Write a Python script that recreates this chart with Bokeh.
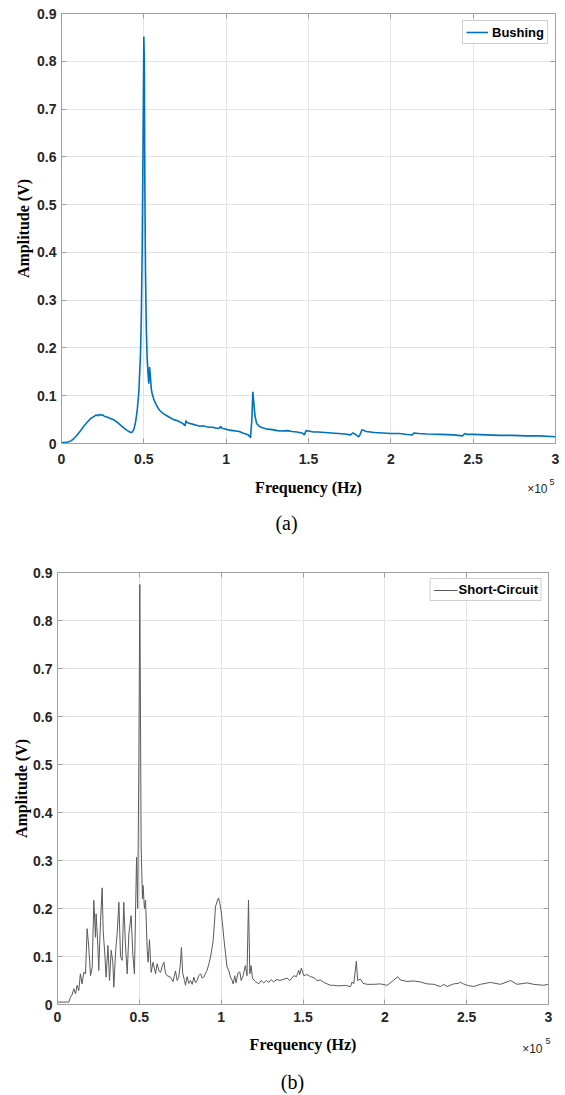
from bokeh.plotting import figure
from bokeh.models import Range1d, FixedTicker, LinearAxis, Legend, LegendItem
from bokeh.core.properties import value
from bokeh.embed import file_html
from bokeh.resources import INLINE

# ---------------- data ----------------
x_ticks = [0, 50000, 100000, 150000, 200000, 250000, 300000]
x_tick_labels = ["0", "0.5", "1", "1.5", "2", "2.5", "3"]
y_ticks = [0, 0.1, 0.2, 0.3, 0.4, 0.5, 0.6, 0.7, 0.8, 0.9]
y_tick_labels = ["0", "0.1", "0.2", "0.3", "0.4", "0.5", "0.6", "0.7", "0.8", "0.9"]

bushing_freq = [0, 2000, 4000, 6000, 8000, 10000, 12000, 14000, 16000, 18000, 20000, 21000,
                22000, 23000, 24000, 25000, 26000, 28000, 30000, 32000, 34000, 36000, 38000,
                40000, 42000, 43000, 44000, 45000, 46000, 47000, 48000, 48500, 49000, 49500,
                50000, 50300, 50600, 51000, 51500, 52000, 52500, 53000, 53500, 54000, 54500,
                55000, 56000, 57000, 58000, 59000, 60000, 62000, 64000, 66000, 68000, 70000,
                72000, 74000, 75000, 75600, 76200, 78000, 80000, 82000, 84000, 86000, 88000,
                90000, 92000, 94000, 96000, 96600, 97500, 100000, 102000, 104000, 106000,
                108000, 110000, 112000, 113500, 114800, 115600, 116200, 116800, 117500,
                118500, 120000, 122000, 125000, 128000, 131000, 134000, 137000, 140000,
                143000, 146000, 147500, 148500, 150000, 153000, 156000, 160000, 164000,
                168000, 172000, 175500, 177000, 178500, 180500, 181500, 182500, 185000,
                190000, 195000, 200000, 205000, 210000, 213000, 214000, 217000, 222000,
                230000, 238000, 243500, 245000, 246000, 250000, 258000, 266000, 274000,
                282000, 290000, 300000]
bushing_amp = [0.002, 0.002, 0.003, 0.006, 0.012, 0.020, 0.029, 0.038, 0.046, 0.053, 0.057, 0.060,
               0.058, 0.061, 0.059, 0.060, 0.057, 0.055, 0.052, 0.049, 0.044, 0.038, 0.032,
               0.027, 0.023, 0.024, 0.030, 0.045, 0.070, 0.110, 0.190, 0.270, 0.400, 0.620,
               0.852, 0.800, 0.550, 0.360, 0.240, 0.180, 0.150, 0.125, 0.160, 0.140, 0.115,
               0.105, 0.093, 0.085, 0.078, 0.072, 0.068, 0.062, 0.058, 0.054, 0.050, 0.048,
               0.045, 0.041, 0.037, 0.048, 0.044, 0.042, 0.040, 0.038, 0.036, 0.037, 0.035,
               0.034, 0.034, 0.032, 0.032, 0.036, 0.032, 0.030, 0.028, 0.027, 0.026,
               0.025, 0.022, 0.020, 0.018, 0.012, 0.050, 0.108, 0.085, 0.058,
               0.042, 0.036, 0.033, 0.030, 0.029, 0.027, 0.026, 0.027, 0.025,
               0.024, 0.022, 0.018, 0.027, 0.026, 0.024, 0.024, 0.023, 0.022,
               0.021, 0.020, 0.018, 0.022, 0.019, 0.014, 0.020, 0.029, 0.025,
               0.023, 0.022, 0.021, 0.021, 0.019, 0.018, 0.022, 0.021, 0.020,
               0.019, 0.018, 0.016, 0.021, 0.019, 0.019, 0.018, 0.017, 0.017,
               0.016, 0.016, 0.014]

short_freq = [0, 6900, 7900, 8900, 9980, 11000, 12000, 13000, 14000, 15000, 16100, 17100,
              18100, 19100, 20200, 21200, 22200, 23200, 23600, 24600, 25200, 26300, 27300,
              27900, 28900, 29700, 30800, 31800, 32800, 33800, 34400, 35500, 36500, 37500,
              38500, 39500, 40500, 41500, 42600, 43600, 45000, 46000, 47000, 48300, 49000,
              49700, 50300, 51100, 51900, 52300, 53100, 53800, 54800, 55400, 56200, 57200,
              58400, 59900, 60900, 62000, 63000, 64000, 65000, 66000, 67000, 69000, 70600,
              72100, 73100, 74100, 75100, 75700, 76500, 77600, 78200, 79200, 80200, 81300,
              82300, 83300, 84300, 85300, 86300, 87400, 88400, 89400, 90400, 91400, 92500,
              93500, 94500, 95100, 95900, 96500, 97500, 98400, 99200, 100000, 100600,
              102000, 103600, 104700, 105700, 106700, 107300, 108300, 109100, 110200,
              111400, 112200, 113400, 114800, 115800, 116700, 117500, 118300, 119100,
              120900, 123000, 124400, 126000, 127700, 129100, 130500, 132000, 134000,
              136000, 140300, 142000, 144400, 146000, 147400, 148000, 149000, 150500,
              152500, 154500, 156600, 158600, 160600, 162700, 164700, 166800, 168800,
              170900, 172900, 175900, 179000, 180000, 181000, 182600, 183400, 185100,
              186700, 189200, 193200, 197300, 201400, 205500, 207900, 209500, 213600,
              217700, 221800, 225800, 229900, 234000, 236000, 238000, 242100, 245000,
              246200, 248000, 250300, 254300, 258400, 264500, 270600, 276800, 280800,
              286900, 291000, 297000, 300000]
short_amp = [0.005, 0.005, 0.015, 0.020, 0.033, 0.022, 0.040, 0.029, 0.064, 0.043, 0.067, 0.064,
             0.158, 0.120, 0.060, 0.077, 0.217, 0.140, 0.189, 0.126, 0.071, 0.175, 0.243,
             0.154, 0.105, 0.057, 0.123, 0.050, 0.113, 0.088, 0.036, 0.110, 0.150, 0.213,
             0.100, 0.092, 0.213, 0.126, 0.064, 0.147, 0.185, 0.105, 0.064, 0.307, 0.200,
             0.500, 0.875, 0.330, 0.220, 0.248, 0.200, 0.217, 0.113, 0.088, 0.135, 0.067,
             0.088, 0.064, 0.085, 0.070, 0.067, 0.080, 0.088, 0.065, 0.060, 0.057, 0.048,
             0.070, 0.050, 0.057, 0.085, 0.119, 0.065, 0.050, 0.040, 0.058, 0.044, 0.050,
             0.042, 0.057, 0.045, 0.050, 0.060, 0.064, 0.055, 0.057, 0.065, 0.071, 0.085,
             0.099, 0.120, 0.133, 0.170, 0.203, 0.215, 0.222, 0.210, 0.195, 0.175,
             0.126, 0.078, 0.070, 0.057, 0.050, 0.043, 0.060, 0.045, 0.065,
             0.068, 0.050, 0.060, 0.081, 0.060, 0.217, 0.064, 0.081, 0.055,
             0.048, 0.043, 0.050, 0.045, 0.050, 0.046, 0.052, 0.047, 0.052,
             0.050, 0.055, 0.050, 0.060, 0.058, 0.071, 0.062, 0.076, 0.060,
             0.0625, 0.058, 0.056, 0.050, 0.051, 0.046, 0.043, 0.040, 0.040,
             0.039, 0.039, 0.040, 0.037, 0.047, 0.043, 0.090, 0.050, 0.053,
             0.044, 0.042, 0.042, 0.043, 0.040, 0.051, 0.058, 0.051, 0.048,
             0.049, 0.047, 0.043, 0.042, 0.0375, 0.042, 0.0375, 0.043, 0.044,
             0.0465, 0.043, 0.040, 0.0375, 0.042, 0.046, 0.042, 0.050, 0.042,
             0.045, 0.042, 0.040, 0.042]

x_label = "Frequency (Hz)"
y_label = "Amplitude (V)"

GRID = "#e4e4e4"
AXC = "#a0a0a0"
TXT = "#262626"
W = 565


def base_fig(bl, fw, bt, fh, bb, tick_standoff, ylabel_standoff):
    p = figure(frame_width=fw, frame_height=fh, min_border_left=bl, min_border_right=W - bl - fw,
               min_border_top=bt, min_border_bottom=bb, output_backend="svg",
               toolbar_location=None, x_range=Range1d(0, 300000), y_range=Range1d(0, 0.9))
    p.background_fill_color = "white"
    p.border_fill_color = "white"
    p.outline_line_color = AXC
    p.xaxis.ticker = FixedTicker(ticks=x_ticks)
    p.yaxis.ticker = FixedTicker(ticks=y_ticks)
    p.xaxis.major_label_overrides = dict(zip(x_ticks, x_tick_labels))
    p.yaxis.major_label_overrides = dict(zip(y_ticks, y_tick_labels))
    for ax in (p.xaxis[0], p.yaxis[0]):
        ax.axis_line_color = AXC
        ax.major_tick_line_color = AXC
        ax.major_tick_in = 5
        ax.major_tick_out = 0
        ax.minor_tick_line_color = None
        ax.major_label_text_font = "Liberation Sans"
        ax.major_label_text_font_style = "bold"
        ax.major_label_text_font_size = "14px"
        ax.major_label_text_color = TXT
        ax.axis_label_text_font = "Liberation Serif"
        ax.axis_label_text_font_style = "bold"
        ax.axis_label_text_font_size = "16px"
        ax.axis_label_text_color = "black"
    p.xaxis.major_label_standoff = tick_standoff
    p.yaxis.major_label_standoff = 5
    p.yaxis.axis_label_standoff = ylabel_standoff
    p.yaxis.axis_label = y_label
    p.xgrid.grid_line_color = GRID
    p.ygrid.grid_line_color = GRID
    for loc, ticks in (("above", x_ticks), ("right", y_ticks)):
        ax = LinearAxis(ticker=FixedTicker(ticks=ticks), major_label_text_font_size="1px",
                        major_label_text_color=None, major_label_standoff=0,
                        axis_line_color=AXC, major_tick_line_color=AXC,
                        major_tick_in=5, major_tick_out=0, minor_tick_line_color=None)
        p.add_layout(ax, loc)
    return p


def add_legend(p, r, text, margin, glyph_w, standoff, h):
    leg = Legend(items=[LegendItem(label=text, renderers=[r])], location="top_right")
    leg.margin = margin
    leg.padding = 3
    leg.spacing = 0
    leg.glyph_width = glyph_w
    leg.glyph_height = h
    leg.label_height = h
    leg.label_standoff = standoff
    leg.label_text_font = "Liberation Sans"
    leg.label_text_font_style = "bold"
    leg.label_text_font_size = "13px"
    leg.label_text_color = "black"
    leg.border_line_color = AXC
    leg.background_fill_color = "white"
    leg.background_fill_alpha = 1
    p.add_layout(leg)


def caption_fig(h, label_x, label_y, x10_x, x10_y, e_x, e_y, cap_x, cap_y, cap):
    # strip under a panel: x-axis title, x10^5 multiplier and (a)/(b) caption.
    # x and y are page pixels (y measured down from the top of the strip)
    c = figure(width=W, height=h, min_border=0, min_border_left=0, min_border_right=0,
               min_border_top=0, min_border_bottom=0, output_backend="svg",
               toolbar_location=None, x_range=Range1d(0, W), y_range=Range1d(h, 0),
               x_axis_type=None, y_axis_type=None)
    c.grid.visible = False
    c.outline_line_color = None
    c.background_fill_color = "white"
    c.border_fill_color = "white"
    c.text(x=[label_x], y=[label_y], text=[x_label], text_align="center",
           text_baseline="alphabetic", text_font=value("Liberation Serif"),
           text_font_style="bold", text_font_size="16px", text_color="black")
    c.text(x=[x10_x], y=[x10_y], text=["\u00d710"], text_align="right",
           text_baseline="alphabetic", text_font=value("Liberation Sans"),
           text_font_size="12px", text_color=TXT)
    c.text(x=[e_x], y=[e_y], text=["5"], text_align="right",
           text_baseline="alphabetic", text_font=value("Liberation Sans"),
           text_font_size="9px", text_color=TXT)
    c.text(x=[cap_x], y=[cap_y], text=[cap], text_align="center",
           text_baseline="alphabetic", text_font=value("Liberation Serif"),
           text_font_size="20px", text_color="black")
    return c


# ---- panel (a) ----
p1 = base_fig(61, 494, 13, 430, 27, 10, 2)
r1 = p1.line(bushing_freq, bushing_amp, line_color="#0072BD", line_width=1.6)
add_legend(p1, r1, "Bushing", 7, 22, 4, 16)
c1 = caption_fig(65, 308, 16.5, 547, 18, 554, 11, 286, 52, "(a)")

# ---- panel (b) ----
p2 = base_fig(57, 491, 37, 432, 24, 7, 0)
r2 = p2.line(short_freq, short_amp, line_color="#5a5a5a", line_width=1)
add_legend(p2, r2, "Short-Circuit", 6, 24, 1, 14)
c2 = caption_fig(67, 302.5, 15.5, 542, 20, 550, 12, 292, 53, "(b)")

# separate roots (no shared layout), so each strip keeps its own borders
open("out.html", "w").write(file_html([p1, c1, p2, c2], INLINE))
